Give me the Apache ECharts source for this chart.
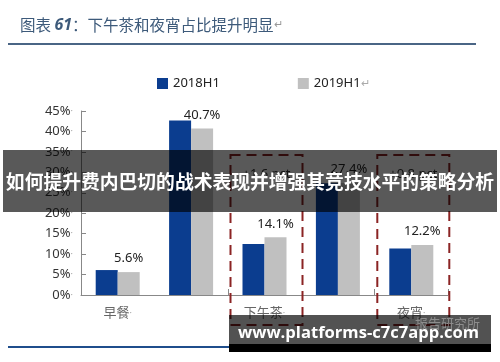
<!DOCTYPE html>
<html>
<head>
<meta charset="utf-8">
<script src="https://cdn.jsdelivr.net/npm/echarts@6/dist/echarts.min.js"></script>
<style>html,body{margin:0;padding:0;background:#fff}#c{width:500px;height:362px}</style>
</head>
<body>
<div id="c"></div>
<script>
const categories = ['早餐', '午餐', '下午茶', '晚餐', '夜宵'];
const series2018 = [6.1, 42.7, 12.5, 27.3, 11.4];
const series2019 = [5.6, 40.7, 14.1, 27.4, 12.2];
const seriesNames = ['2018H1', '2019H1'];
const yMin = 0, yMax = 45, yStep = 5;
const boxedCategories = ['下午茶', '夜宵'];
const boxNotes = ['+1.6 pct', '+0.8 pct'];

const FONT = '"Noto Sans", "Noto Sans CJK SC", sans-serif';
const chart = echarts.init(document.getElementById('c'), null, {renderer: 'canvas'});

const option = {
  backgroundColor: '#fff',
  animation: false,
  textStyle: {fontFamily: FONT},
  grid: {left: 81, right: 52, top: 111, bottom: 67, containLabel: false},
  legend: {
    left: 152, top: 72, itemWidth: 11, itemHeight: 11, itemGap: 78,
    icon: 'rect',
    textStyle: {fontSize: 13, color: '#222', fontFamily: FONT,
      rich: {r: {fontSize: 11, color: '#aaa'}}},
    formatter: n => n === '2019H1' ? n + '{r|↵}' : n,
    data: seriesNames
  },
  xAxis: {
    type: 'category', data: categories,
    axisLine: {lineStyle: {color: '#888', width: 1}},
    axisTick: {show: true, inside: true, length: 6, lineStyle: {color: '#888'}},
    axisLabel: {fontSize: 13, color: '#666', margin: 12,
      formatter: v => v + '{d|·}', rich: {d: {fontSize: 9, color: '#aaa'}}}
  },
  yAxis: {
    type: 'value', min: yMin, max: yMax, interval: yStep,
    splitLine: {show: false},
    axisLine: {show: true, lineStyle: {color: '#888', width: 1}},
    axisTick: {show: true, inside: true, length: 5, lineStyle: {color: '#888'}},
    axisLabel: {fontSize: 13, color: '#333', margin: 8,
      formatter: v => v + '%{d|·}', rich: {d: {fontSize: 9, color: '#aaa'}}}
  },
  series: [
    {name: seriesNames[0], type: 'bar', data: series2018, barWidth: 22, barGap: '0%',
      itemStyle: {color: '#0b3d8f'}},
    {name: seriesNames[1], type: 'bar', data: series2019, barWidth: 22, barGap: '0%',
      itemStyle: {color: '#c0c0c0'},
      label: {show: true, position: 'top', distance: 7, fontSize: 13, color: '#222',
        formatter: p => p.value.toFixed(1) + '%'}}
  ]
};
chart.setOption(option);

const graphics = [
  {type: 'text', left: 20, top: 17, z: 50,
    style: {text: '{a|图表 }{b|61}{a|：下午茶和夜宵占比提升明显}{c|↵}',
      rich: {
        a: {font: '15.5px "Noto Sans CJK SC", sans-serif', fill: '#3d5a7a', color: '#3d5a7a'},
        b: {font: 'italic bold 16px "Noto Sans", sans-serif', fill: '#3d5a7a', color: '#3d5a7a'},
        c: {font: '11px sans-serif', fill: '#999', color: '#999'}
      }}},
  {type: 'line', z: 50, shape: {x1: 8, y1: 44, x2: 476, y2: 44}, style: {stroke: '#4a6585', lineWidth: 2}},
  {type: 'line', z: 50, shape: {x1: 8, y1: 347, x2: 490, y2: 347}, style: {stroke: '#1f4e8c', lineWidth: 2}}
];
boxedCategories.forEach((c, i) => {
  const cx = chart.convertToPixel({xAxisIndex: 0}, c);
  const x1 = cx - 34, x2 = cx + 38;
  graphics.push({type: 'rect', z: 40, shape: {x: x1, y: 155, width: x2 - x1, height: 170},
    style: {fill: 'none', stroke: '#8b2424', lineWidth: 2, lineDash: [10, 6]}});
  graphics.push({type: 'text', z: 40, x: cx + 2, y: 174,
    style: {text: boxNotes[i], font: '13px ' + FONT, fill: '#333', textAlign: 'center', textVerticalAlign: 'middle'}});
});
graphics.push(
  {type: 'rect', z: 100, shape: {x: 3, y: 150, width: 494, height: 62}, style: {fill: 'rgba(0,0,0,0.65)'}},
  {type: 'text', z: 101, x: 250, y: 182,
    style: {text: '如何提升费内巴切的战术表现并增强其竞技水平的策略分析', font: 'bold 18.8px "Noto Sans CJK SC", sans-serif',
      fill: '#fff', textAlign: 'center', textVerticalAlign: 'middle'}},
  {type: 'rect', z: 100, shape: {x: 229, y: 315, width: 262, height: 30}, style: {fill: 'rgba(0,0,0,0.68)'}},
  {type: 'rect', z: 100, shape: {x: 229, y: 344, width: 262, height: 8}, style: {fill: '#000'}},
  {type: 'text', z: 102, x: 415, y: 317,
    style: {text: '报告研究所', font: '13px "Noto Sans CJK SC", sans-serif', fill: 'rgba(190,190,190,0.55)'}},
  {type: 'text', z: 101, x: 238, y: 333,
    style: {text: 'www.platforms-c7c7app.com', font: 'bold 16.6px "Open Sans", sans-serif',
      fill: '#fff', textAlign: 'left', textVerticalAlign: 'middle'}}
);
chart.setOption({graphic: graphics});
</script>
</body>
</html>
